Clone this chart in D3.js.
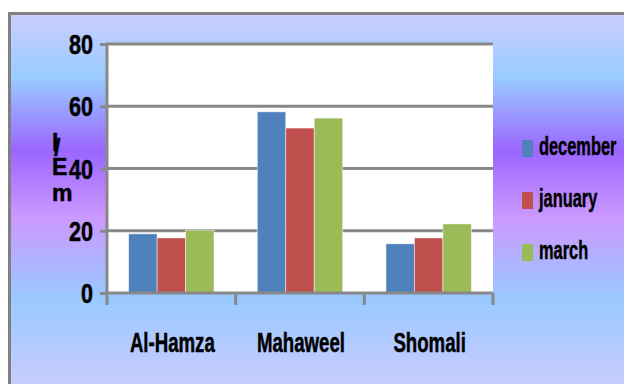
<!DOCTYPE html>
<html>
<head>
<meta charset="utf-8">
<script src="https://cdn.jsdelivr.net/npm/d3@7"></script>
<style>
  html, body { margin: 0; padding: 0; background: #ffffff; }
  svg { display: block; }
  text { font-family: "Liberation Sans", Arial, sans-serif; font-weight: bold; fill: #000; stroke: #000; stroke-width: 0.5px; }
</style>
</head>
<body>
<svg id="chart" width="624" height="384"></svg>
<script>
// Chart data
const categories = ["Al-Hamza", "Mahaweel", "Shomali"];
const seriesNames = ["december", "january", "march"];
const december = [19, 58.2, 15.8];
const january = [17.7, 53, 17.7];
const march = [20.2, 56.2, 22.2];
const yTicks = [0, 20, 40, 60, 80];
const yTitle = ["l", "/", "E", "m"];
const colors = ["#4f81bd", "#c0504d", "#9bbb59"];

const seriesValues = [december, january, march];

const svg = d3.select("#chart");
const W = 624, H = 384;
const margin = { left: 107, right: 131, top: 44, bottom: 91 };
const plotRight = W - margin.right;
const plotBottom = H - margin.bottom;

// Squeeze text horizontally so the glyphs look condensed
function condense(sel, factor) {
  sel.each(function () {
    const len = this.getComputedTextLength();
    d3.select(this).attr("textLength", len * factor).attr("lengthAdjust", "spacingAndGlyphs");
  });
}

// Background gradient
const defs = svg.append("defs");
const grad = defs.append("linearGradient")
  .attr("id", "bg").attr("gradientUnits", "userSpaceOnUse")
  .attr("x1", 0).attr("y1", 14).attr("x2", 0).attr("y2", 384);
[[0, "#cccdff"], [0.17, "#99ccff"], [0.37, "#9b66ff"], [0.55, "#cc99ff"], [0.77, "#99c9ff"], [1, "#c8ccff"]]
  .forEach(([o, c]) => grad.append("stop").attr("offset", o).attr("stop-color", c));

svg.append("rect")
  .attr("x", 9.5).attr("y", 13.5).attr("width", 700).attr("height", 500)
  .attr("fill", "url(#bg)").attr("stroke", "#808080").attr("stroke-width", 3);

// Scales
const y = d3.scaleLinear().domain([0, 80]).range([plotBottom, margin.top]);
const x0 = d3.scaleBand().domain(categories).range([margin.left, plotRight]).padding(0);
const x1 = d3.scaleBand().domain(seriesNames).range([0, x0.bandwidth()])
  .paddingInner(0).paddingOuter(0.76);

// Plot area
svg.append("rect")
  .attr("x", margin.left).attr("y", margin.top)
  .attr("width", plotRight - margin.left).attr("height", plotBottom - margin.top)
  .attr("fill", "#ffffff");

// Gridlines
svg.append("g").selectAll("line").data(yTicks.filter(d => d > 0)).join("line")
  .attr("x1", margin.left).attr("x2", plotRight)
  .attr("y1", d => y(d)).attr("y2", d => y(d))
  .attr("stroke", "#888888").attr("stroke-width", 3);

// Bars
const groups = svg.append("g").selectAll("g").data(categories).join("g")
  .attr("transform", d => `translate(${x0(d)},0)`);
groups.selectAll("rect")
  .data((c, i) => seriesNames.map((s, j) => ({ s, j, v: seriesValues[j][i] })))
  .join("rect")
  .attr("x", d => x1(d.s))
  .attr("width", x1.bandwidth())
  .attr("y", d => y(d.v))
  .attr("height", d => y(0) - y(d.v))
  .attr("fill", d => colors[d.j])
  .attr("stroke", "rgba(255,255,255,0.6)").attr("stroke-width", 0.8);

// Y axis
const yAxis = d3.axisLeft(y).tickValues(yTicks).tickSize(7).tickPadding(7);
const gy = svg.append("g").attr("transform", `translate(${margin.left},0)`).call(yAxis);
gy.attr("font-family", null);
gy.select(".domain").remove();
gy.selectAll(".tick line").attr("stroke", "#888888").attr("stroke-width", 3);
gy.selectAll(".tick text")
  .attr("font-size", 27).attr("dy", "0.36em").attr("fill", "#000")
  .call(condense, 0.8);
svg.append("line")
  .attr("x1", margin.left).attr("x2", margin.left)
  .attr("y1", margin.top - 1.5).attr("y2", plotBottom + 12)
  .attr("stroke", "#888888").attr("stroke-width", 3);

// X axis line and category boundary ticks
svg.append("line")
  .attr("x1", margin.left).attr("x2", plotRight)
  .attr("y1", plotBottom).attr("y2", plotBottom)
  .attr("stroke", "#888888").attr("stroke-width", 3);
const bounds = categories.map(c => x0(c)).concat([x0(categories[categories.length - 1]) + x0.step()]);
svg.append("g").selectAll("line").data(bounds.slice(1)).join("line")
  .attr("x1", d => d).attr("x2", d => d)
  .attr("y1", plotBottom).attr("y2", plotBottom + 12)
  .attr("stroke", "#888888").attr("stroke-width", 3);

// Category labels
svg.append("g").selectAll("text").data(categories).join("text")
  .attr("x", d => x0(d) + x0.bandwidth() / 2 + 1)
  .attr("y", plotBottom + 59)
  .attr("text-anchor", "middle")
  .attr("font-size", 27)
  .text(d => d)
  .call(condense, 0.69);

// Y axis title, stacked characters in one text
const titleY = [151, 156, 175, 201];
const title = svg.append("text").attr("font-size", 23);
title.selectAll("tspan").data(yTitle).join("tspan")
  .attr("x", (d, i) => i === 1 ? 54 : 52)
  .attr("y", (d, i) => titleY[i])
  .text(d => d);

// Legend
const legend = svg.append("g").selectAll("g").data(seriesNames).join("g")
  .attr("transform", (d, i) => `translate(522,${140 + i * 52})`);
legend.append("rect")
  .attr("width", 11).attr("height", 17)
  .attr("fill", (d, i) => colors[i]);
legend.append("text")
  .attr("x", 17).attr("y", 15)
  .attr("font-size", 26)
  .text(d => d)
  .call(condense, 0.63);
</script>
</body>
</html>
